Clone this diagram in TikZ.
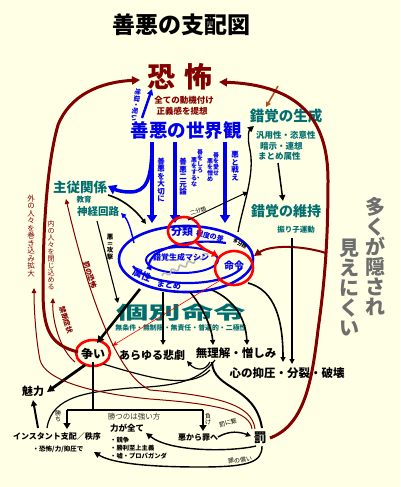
\documentclass[tikz,border=0pt]{standalone}
\usepackage{fontspec}
\setmainfont{Noto Sans CJK JP}
\usetikzlibrary{arrows.meta,decorations.pathmorphing}
\definecolor{bgc}{RGB}{255,255,230}
\definecolor{dred}{RGB}{130,0,0}
\definecolor{teal2}{RGB}{0,110,110}
\definecolor{blu}{RGB}{0,0,235}
\definecolor{brn}{RGB}{170,80,30}
\definecolor{gtxt}{RGB}{110,110,110}
\newcommand{\fs}[1]{\fontsize{#1}{#1}\selectfont}
\begin{document}
\begin{tikzpicture}[x=1pt,y=-1pt,
  t/.style={inner sep=0pt, font=\bfseries},
  vt/.style={inner sep=0pt, align=center},
  blk/.style={black, line width=1.6pt, -{Triangle[length=5pt,width=5pt]}},
  bigblue/.style={blu, line width=3.5pt, -{Triangle[length=8pt,width=10pt]}},
  drk/.style={dred, line width=1pt, -{Triangle[length=5pt,width=4.5pt]}},
  drkthick/.style={dred, line width=3pt, -{Triangle[length=8pt,width=8pt]}},
  redc/.style={red, line width=2.6pt}
]
\fill[bgc] (0,0) rectangle (400,487);
\useasboundingbox (0,0) rectangle (400,487);

% titles and main labels
\node[t, font=\fs{23}\bfseries] (title) at (181,25) {善悪の支配図};
\node[t, dred, font=\fs{28}\bfseries] (fear) at (180,77) {恐\hspace{9pt}怖};
\node[t, dred, font=\fs{8.5}\bfseries] (fear1) at (184,100) {全ての動機付け};
\node[t, dred, font=\fs{8.5}\bfseries] (fear2) at (182,111) {正義感を提想};
\node[t, blu, font=\fs{18.5}\bfseries] (world) at (186,130) {善悪の世界観};
\node[t, teal2, font=\fs{14.5}\bfseries] (gen) at (286,116) {錯覚の生成};
\node[t, teal2, font=\fs{8.5}\bfseries, anchor=west] (gen1) at (256,135) {汎用性・恣意性};
\node[t, teal2, font=\fs{8.5}\bfseries, anchor=west] (gen2) at (260,146) {暗示・連想};
\node[t, teal2, font=\fs{8.5}\bfseries, anchor=west] (gen3) at (258,156) {まとめ属性};
\node[t, teal2, font=\fs{14}\bfseries] (keep) at (286,211) {錯覚の維持};
\node[t, teal2, font=\fs{7.5}\bfseries] (keep1) at (296,230) {振り子運動};
\node[t, teal2, font=\fs{13.5}\bfseries] (master) at (80,187) {主従関係};
\node[t, teal2, font=\fs{7.5}\bfseries] (edu) at (84,200) {教育};
\node[t, teal2, font=\fs{10.5}\bfseries] (nerve) at (98,212) {神経回路};

% hidden text
\node[vt, gtxt, font=\fs{20}\bfseries] (hid1) at (375,256) {多\\く\\が\\隠\\さ\\れ};
\node[vt, gtxt, font=\fs{20}\bfseries] (hid2) at (349,288) {見\\え\\に\\く\\い};

% blue world arrows
\draw[blu, line width=2.5pt, -{Triangle[length=6pt,width=6pt]}] (142,118) -- (152,89);
\node[t, blu, font=\fs{6.5}\bfseries, rotate=-98] (hell) at (136,105) {地獄・呪い};
\draw[bigblue] (152,142) -- (152,223);
\draw[bigblue] (175,142) -- (175,223);
\draw[bigblue] (225,142) -- (225,223);
\draw[blu, line width=3.5pt, -{Triangle[length=8pt,width=10pt]}] (152,150) .. controls (151,180) and (146,192) .. (130,192) .. controls (122,192) and (116,190) .. (108,186);
\node[vt, blu, font=\fs{7.5}\bfseries] (v1) at (161,180) {善\\悪\\を\\大\\切\\に};
\node[vt, blu, font=\fs{7.5}\bfseries] (v2) at (183,177) {善\\悪\\二\\元\\論};
\node[vt, blu, font=\fs{6}\bfseries] (v3) at (216,164) {善\\を\\愛\\せ};
\node[vt, blu, font=\fs{6}\bfseries] (v4) at (210,170) {悪\\を\\憎\\め};
\node[vt, blu, font=\fs{6}\bfseries] (v5) at (200,164) {善\\を\\し\\ろ\\、};
\node[vt, blu, font=\fs{6}\bfseries] (v6) at (194,172) {悪\\を\\す\\る\\な};
\node[vt, blu, font=\fs{7.5}\bfseries] (v7) at (235,166) {悪\\と\\戦\\え};

% ellipses
\draw[blu, line width=2.6pt] (186,259) ellipse [x radius=67, y radius=33];
\draw[blu, line width=2.2pt, -{Triangle[length=5pt,width=6pt]}] (226,243) arc[start angle=290, end angle=165, x radius=57, y radius=23];
\draw[blu, line width=2.2pt] (133,266) arc[start angle=165, end angle=20, x radius=57, y radius=23];
\draw[blu, line width=2pt] (182,260) ellipse [x radius=36, y radius=13];
\draw[gray!55, line width=1.6pt, decorate, decoration={snake, amplitude=2pt, segment length=9pt}] (162,276) -- (208,254);
\node[t, blu, font=\fs{8}\bfseries] (mach) at (181,257) {錯覚生成マシン};
\node[t, blu, font=\fs{11}\bfseries] (cls) at (182,231) {分類};
\node[t, blu, font=\fs{7}\bfseries, rotate=-12] (deg) at (210,236) {程度の差};
\node[t, black, font=\fs{5}\bfseries, rotate=-30] (multi) at (240,244) {多分類};
\node[t, blu, font=\fs{9.5}\bfseries, rotate=-22] (attr) at (142,275) {属性};
\node[t, blu, font=\fs{8}\bfseries, rotate=-8] (matome) at (169,285) {まとめ};
\node[t, blu, font=\fs{10}\bfseries] (cmd) at (234,266) {命令};
\draw[redc] (184,231) ellipse [x radius=16, y radius=14];
\draw[redc] (234,268) ellipse [x radius=19, y radius=17];
\draw[redc, -{Triangle[length=6pt,width=7pt]}] (196,242) .. controls (204,250) and (210,252) .. (218,256);

% individual command
\node[t, teal2, font=\fs{18}\bfseries] (ind) at (181,313) {\scalebox{1.8}[1]{個別命令}};
\node[t, teal2, font=\fs{6.9}\bfseries] (ind1) at (181,328) {無条件・無制限・無責任・普遍的・二極性};

% bottom labels
\node[t, font=\fs{12}\bfseries] (fight) at (93,354) {争い};
\node[t, font=\fs{11}\bfseries] (trag) at (152,355) {あらゆる悲劇};
\node[t, font=\fs{11.5}\bfseries] (hate) at (236,353) {無理解・憎しみ};
\node[t, font=\fs{11.5}\bfseries] (supp) at (287,373) {心の抑圧・分裂・破壊};
\node[t, font=\fs{11}\bfseries] (charm) at (33,391) {魅力};
\node[t, font=\fs{8}\bfseries] (inst) at (57,436) {インスタント支配／秩序};
\node[t, font=\fs{6.5}\bfseries] (inst1) at (58,449) {・恐怖/力/抑圧で};
\node[t, black!80, font=\fs{7.5}] (strong) at (134,417) {勝つのは強い方};
\node[t, font=\fs{8.5}\bfseries] (power) at (127,428) {力が全て};
\node[t, font=\fs{6.3}\bfseries, anchor=west] (p1) at (110,440) {・競争};
\node[t, font=\fs{6.3}\bfseries, anchor=west] (p2) at (110,448) {・勝利至上主義};
\node[t, font=\fs{6.3}\bfseries, anchor=west] (p3) at (110,456) {・嘘・プロパガンダ};
\node[t, font=\fs{8}\bfseries] (sin) at (198,438) {悪から罪へ};
\node[t, font=\fs{13}\bfseries] (pun) at (260,438) {罰};
\node[t, font=\fs{6}, rotate=15] (lead) at (228,423) {罰に繋};
\node[t, font=\fs{6}, rotate=8] (atone) at (240,460) {罪の償い};
\node[vt, font=\fs{6}] (win) at (58,416) {勝\\ち};
\node[vt, font=\fs{6}] (lose) at (208,419) {負\\け};
\node[vt, font=\fs{6.5}\bfseries] (atk) at (110,247) {悪\\＝\\攻\\撃};
\draw[redc] (93,353) ellipse [x radius=17, y radius=13];

% dark red left texts
\node[vt, dred, font=\fs{7.5}] (outer) at (31,236) {外\\の\\人\\々\\を\\巻\\き\\込\\み\\拡\\大};
\node[vt, dred, font=\fs{7}] (inner) at (51,255) {内\\の\\人\\々\\を\\閉\\じ\\込\\め\\る};
\node[t, dred, font=\fs{7}\bfseries, rotate=-72] (pf) at (90,275) {罰の恐怖};
\node[t, dred, font=\fs{7}\bfseries, rotate=-72] (wd) at (66,320) {禁断症状};

% connectors
\draw[blk] (108,195) .. controls (125,200) and (137,212) .. (146,224);
\draw[blu, line width=1.4pt, -{Triangle[length=5pt,width=5pt]}] (134,243) .. controls (131,230) and (128,220) .. (121,213);
\draw[black, line width=1pt, -{Triangle[length=5pt,width=5pt]}] (188,220) .. controls (210,210) and (230,200) .. (248,192);
\node[t, font=\fs{5.5}, rotate=18] (two) at (198,211) {二分類};
\draw[black, line width=1.3pt, -{Triangle[length=6pt,width=6pt]}] (238,232) .. controls (243,205) and (255,175) .. (250,150) .. controls (247,138) and (249,130) .. (254,126);
\draw[black, line width=1.5pt, -{Triangle[length=6pt,width=6pt]}] (278,163) -- (283,201);
\draw[brn, line width=1.5pt, -{Triangle[length=5pt,width=5pt]}] (278,86) -- (266,107);

\draw[drkthick] (270,438) .. controls (305,425) and (312,380) .. (318,330) .. controls (325,280) and (328,240) .. (328,180) .. controls (328,120) and (300,85) .. (219,82);
\draw[dred, line width=2pt, -{Triangle[length=7pt,width=7pt]}] (326,253) .. controls (300,245) and (270,245) .. (254,256);
\draw[drkthick] (78,352) .. controls (50,345) and (43,330) .. (43,290) .. controls (43,220) and (48,160) .. (58,125) .. controls (70,95) and (100,82) .. (140,80);

\draw[red, line width=0.6pt, -{Stealth[length=6pt]}] (224,278) -- (112,346);

\draw[black, line width=2.6pt, -{Triangle[length=7pt,width=7pt]}] (140,289) -- (97,343);
\draw[black, line width=1.1pt, -{Triangle[length=5pt,width=5pt]}] (97,221) -- (118,303);
\draw[blk] (163,292) -- (163,345);
\draw[blk] (190,292) .. controls (205,310) and (212,330) .. (213,345);
\draw[blk] (212,290) .. controls (235,300) and (246,320) .. (247,345);
\draw[blk] (248,283) .. controls (275,290) and (283,320) .. (283,362);
\draw[blk] (292,238) -- (292,364);

\draw[black, line width=2.8pt, -{Triangle[length=7pt,width=7pt]}] (85,365) -- (47,392);
\draw[black, line width=2pt] (93,362) -- (93,410);
\draw[black, line width=2pt] (67,410) -- (203,410);
\draw[black, line width=2pt, -{Triangle[length=6pt,width=7pt]}] (67,410) -- (67,429);
\draw[black, line width=2pt, -{Triangle[length=6pt,width=7pt]}] (203,410) -- (203,431);
\draw[black, line width=2pt, -{Triangle[length=6pt,width=6pt]}] (38,428) -- (33,400);
\draw[black, line width=1.4pt, -{Triangle[length=5pt,width=5pt]}] (218,437) .. controls (230,430) and (240,432) .. (251,436);
\draw[black, line width=1.4pt, -{Triangle[length=6pt,width=6pt]}] (262,446) .. controls (262,462) and (250,467) .. (200,467) .. controls (140,467) and (110,462) .. (94,452);
\draw[black, line width=1.4pt, -{Triangle[length=6pt,width=6pt]}] (256,446) .. controls (230,452) and (170,452) .. (146,433);
\draw[black, line width=2pt] (212,362) .. controls (213,390) and (255,385) .. (262,428);
\draw[black, line width=1.2pt, -{Triangle[length=5pt,width=5pt]}] (210,362) .. controls (205,372) and (195,370) .. (187,361);
\draw[black, line width=1.2pt] (103,364) .. controls (150,378) and (190,390) .. (210,370);
\draw[black, line width=1.2pt] (47,428) .. controls (52,395) and (90,392) .. (130,388) .. controls (180,386) and (200,380) .. (215,360);

% thin dark red
\draw[drk] (75,362) .. controls (60,350) and (52,320) .. (53,298);
\draw[drk] (255,429) .. controls (252,405) and (220,396) .. (150,390) .. controls (110,372) and (80,260) .. (66,199);
\draw[drk] (252,429) .. controls (250,412) and (220,404) .. (150,399) .. controls (90,393) and (45,380) .. (40,360) .. controls (36,340) and (34,310) .. (34,288);
\end{tikzpicture}
\end{document}
